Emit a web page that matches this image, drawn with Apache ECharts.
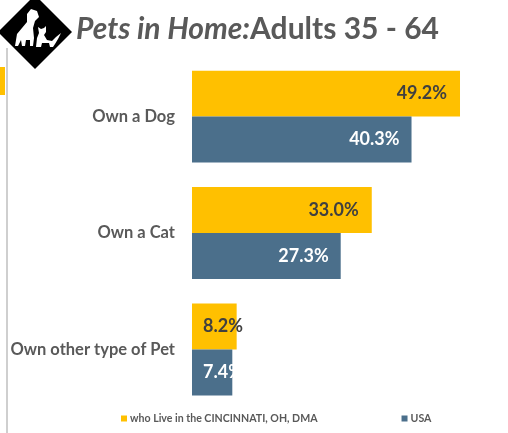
<!DOCTYPE html>
<html><head><meta charset="utf-8">
<script src="https://cdn.jsdelivr.net/npm/echarts@6/dist/echarts.min.js"></script>
<style>html,body{margin:0;padding:0;background:#fff}#c{width:508px;height:433px}</style>
</head><body><div id="c"></div>
<script>
const categories = ['Own a Dog', 'Own a Cat', 'Own other type of Pet'];
const cincinnati = [49.2, 33.0, 8.2];
const usa = [40.3, 27.3, 7.4];
const seriesNames = ['who Live in the CINCINNATI, OH, DMA', 'USA'];

const chart = echarts.init(document.getElementById('c'));
const FONT = 'Lato, "Open Sans", sans-serif';
function mk(vals) {
  return vals.map(v => v < 12 ? {value: v, label: {position: 'insideLeft', distance: 11}} : v);
}
chart.setOption({
  animation: false,
  textStyle: {fontFamily: FONT},
  title: {
    text: '{i|Pets in Home:}{n|Adults 35 - 64}',
    left: 71, top: 9,
    textStyle: {
      rich: {
        i: {fontFamily: FONT, fontSize: 30, fontStyle: 'italic', color: '#595959'},
        n: {fontFamily: FONT, fontSize: 30, color: '#595959'}
      }
    }
  },
  legend: {
    bottom: 4, left: 116,
    itemWidth: 6, itemHeight: 6, itemGap: 84,
    icon: 'rect',
    textStyle: {fontFamily: FONT, fontSize: 10.6, fontWeight: 'bold', color: '#595959', padding: [0, 0, 0, -2]},
    data: seriesNames
  },
  grid: {left: 192, right: 16.4, top: 58.4, bottom: 25.3, containLabel: false},
  xAxis: {type: 'value', min: 0, max: 55, show: false},
  yAxis: {
    type: 'category', data: categories, inverse: true,
    axisLine: {show: false}, axisTick: {show: false},
    axisLabel: {fontFamily: FONT, fontSize: 16.5, fontWeight: 'bold', color: '#595959', margin: 17}
  },
  series: [
    {
      name: seriesNames[0], type: 'bar', data: mk(cincinnati),
      itemStyle: {color: '#FFC000'},
      barGap: '0%', barCategoryGap: '21%',
      label: {show: true, position: 'insideRight', distance: 13, formatter: p => p.value.toFixed(1) + '%',
        fontFamily: FONT, fontSize: 18, fontWeight: 'bold', color: '#404040'}
    },
    {
      name: seriesNames[1], type: 'bar', data: mk(usa),
      itemStyle: {color: '#4B6F8B'},
      barGap: '0%', barCategoryGap: '21%',
      label: {show: true, position: 'insideRight', distance: 12, formatter: p => p.value.toFixed(1) + '%',
        fontFamily: FONT, fontSize: 18, fontWeight: 'bold', color: '#ffffff'}
    }
  ],
  graphic: [
    {type: 'line', shape: {x1: 7, y1: 48, x2: 7, y2: 433}, style: {stroke: '#bfbfbf', lineWidth: 1.5}},
    {type: 'rect', shape: {x: 0, y: 67, width: 5, height: 28}, style: {fill: '#FFC000'}},
    {type: 'polygon', shape: {points: [[-2, 32], [35, -5], [72, 32], [35, 69]]}, style: {fill: '#000'}},
    // dog silhouette (approx.)
    {type: 'polygon', shape: {points: [[15, 46], [17, 34], [22, 28], [27, 22], [27, 14], [31, 9], [37, 11], [39, 17], [35, 21], [33, 28], [34, 38], [33, 46], [30, 46], [30, 40], [26, 40], [25, 46], [22, 46], [21, 40], [18, 46]]}, style: {fill: '#fff'}},
    // cat silhouette (approx.)
    {type: 'polygon', shape: {points: [[36, 47], [37, 38], [39, 33], [38, 27], [41, 29], [44, 28], [46, 26], [46, 32], [44, 35], [47, 40], [52, 41], [56, 37], [61, 33], [58, 39], [55, 44], [53, 47], [50, 47], [49, 43], [42, 43], [41, 47]]}, style: {fill: '#fff'}}
  ]
});
</script></body></html>
